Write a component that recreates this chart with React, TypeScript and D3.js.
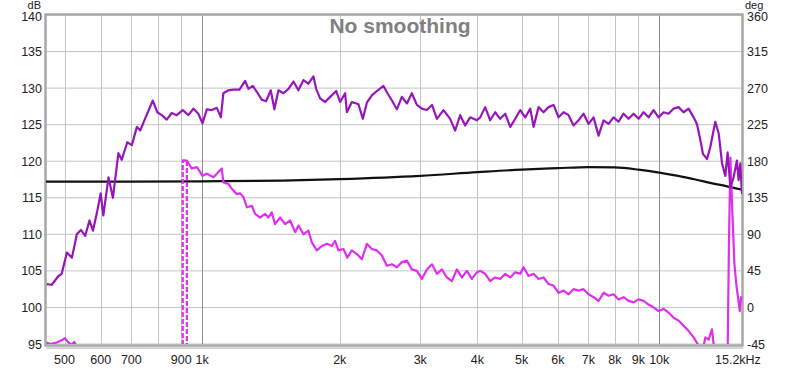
import React, { useEffect, useRef } from 'react';
import * as d3 from 'd3';

// ---- data ----
const gridFreqs = [500, 600, 700, 800, 900, 1000, 2000, 3000, 4000, 5000, 6000, 7000, 8000, 9000, 10000];
const majorFreqs = [1000, 10000];
const freqTicks = [500, 600, 700, 900, 1000, 2000, 3000, 4000, 5000, 6000, 7000, 8000, 9000, 10000];
const freqLabels = ['500', '600', '700', '900', '1k', '2k', '3k', '4k', '5k', '6k', '7k', '8k', '9k', '10k'];
const dbTicks = [95, 100, 105, 110, 115, 120, 125, 130, 135, 140];
const degTicks = [-45, 0, 45, 90, 135, 180, 225, 270, 315, 360];

// dark purple SPL trace
const splAFreq = [457, 469, 485, 493, 506, 519, 532, 543, 555, 567, 577, 588, 600, 608, 624, 638, 656, 667, 686, 702, 720, 732, 750, 780, 798, 816, 837, 858, 880, 907, 933, 957, 981, 1002, 1024, 1050, 1077, 1099, 1113, 1142, 1171, 1207, 1242, 1263, 1291, 1317, 1351, 1380, 1413, 1439, 1469, 1506, 1545, 1584, 1624, 1666, 1708, 1752, 1776, 1812, 1858, 1906, 1965, 2004, 2055, 2073, 2126, 2198, 2247, 2293, 2351, 2411, 2493, 2544, 2601, 2667, 2735, 2805, 2876, 2950, 3025, 3102, 3183, 3263, 3373, 3488, 3577, 3669, 3762, 3858, 3991, 4058, 4161, 4267, 4376, 4488, 4603, 4721, 4841, 4965, 5092, 5222, 5309, 5444, 5583, 5726, 5872, 6022, 6175, 6333, 6494, 6660, 6830, 7004, 7183, 7366, 7554, 7746, 7943, 8146, 8354, 8567, 8786, 9010, 9240, 9475, 9717, 9965, 10220, 10480, 10750, 11020, 11300, 11590, 11890, 12090, 12300, 12460, 12720, 12930, 13260, 13490, 13720, 13950, 14110, 14310, 14540, 14790, 14910, 15040, 15170];
const splADb = [103.2, 103.1, 104.3, 104.6, 107.5, 106.8, 110.0, 110.6, 109.8, 111.9, 110.5, 112.8, 115.6, 112.6, 117.8, 115.0, 121.1, 120.2, 122.6, 122.2, 124.7, 124.2, 125.8, 128.3, 126.7, 126.3, 125.7, 126.6, 126.3, 127.0, 126.3, 127.2, 126.5, 125.2, 127.1, 127.0, 127.3, 126.0, 129.3, 129.7, 129.8, 129.8, 131.0, 129.9, 130.3, 129.5, 128.4, 128.2, 129.7, 127.1, 129.7, 129.3, 129.9, 130.9, 129.7, 131.1, 130.6, 131.6, 129.9, 128.6, 128.1, 128.8, 129.6, 128.1, 129.3, 126.7, 128.1, 127.8, 125.8, 128.0, 129.0, 129.6, 130.3, 129.3, 128.3, 127.1, 128.8, 127.9, 129.3, 127.7, 127.2, 127.0, 127.7, 125.8, 127.0, 125.8, 124.2, 126.3, 124.9, 126.0, 125.6, 126.0, 127.4, 125.6, 126.7, 125.8, 126.5, 124.7, 125.8, 127.0, 126.0, 127.2, 124.7, 127.4, 126.7, 127.4, 127.7, 126.0, 126.7, 126.3, 124.9, 125.6, 126.5, 125.1, 126.0, 123.5, 125.6, 125.1, 126.0, 125.4, 126.5, 125.8, 126.5, 125.8, 126.7, 126.0, 127.0, 126.0, 126.7, 126.5, 127.2, 127.4, 126.7, 127.2, 126.0, 125.1, 122.9, 121.0, 120.3, 121.9, 125.4, 123.8, 119.7, 118.0, 121.2, 116.4, 117.8, 120.1, 117.4, 119.7, 115.5];

// magenta SPL trace
const splBFreq = [457, 465, 481, 493, 501, 510, 519, 525, 533, 545, 580, 870, 907, 926, 949, 974, 1002, 1024, 1059, 1104, 1113, 1142, 1162, 1191, 1211, 1231, 1253, 1285, 1306, 1339, 1374, 1397, 1420, 1444, 1481, 1519, 1558, 1598, 1625, 1666, 1708, 1738, 1782, 1828, 1875, 1922, 1954, 1987, 2038, 2078, 2126, 2181, 2236, 2293, 2351, 2411, 2473, 2536, 2601, 2667, 2735, 2805, 2876, 2950, 3025, 3102, 3183, 3263, 3346, 3431, 3519, 3608, 3700, 3794, 3891, 3991, 4058, 4161, 4267, 4376, 4488, 4603, 4721, 4841, 4965, 5049, 5176, 5309, 5444, 5583, 5726, 5872, 6022, 6175, 6333, 6494, 6660, 6830, 7004, 7183, 7366, 7554, 7746, 7943, 8146, 8354, 8567, 8786, 9010, 9240, 9475, 9717, 9965, 10220, 10480, 10750, 11020, 11300, 11590, 11890, 12190, 12400, 12610, 12820, 13040, 13260, 14100, 14200, 14310, 14450, 14600, 14750, 14910, 15000, 15100, 15170];
const splBDb = [95.2, 95.0, 95.2, 95.5, 95.8, 95.2, 94.9, 95.3, 94.5, 92, 90, 90, 120.1, 120.1, 119.0, 119.2, 118.0, 118.3, 117.8, 119.0, 117.1, 116.9, 116.2, 115.5, 115.6, 115.1, 113.7, 113.9, 112.8, 112.3, 112.8, 112.3, 113.0, 111.4, 112.3, 111.4, 111.9, 110.3, 111.2, 110.0, 110.5, 108.9, 107.8, 108.4, 108.7, 108.4, 109.1, 107.8, 108.0, 106.8, 107.8, 107.3, 106.6, 108.7, 108.0, 107.8, 107.1, 105.7, 105.9, 105.5, 106.2, 106.4, 105.2, 105.0, 103.9, 105.2, 105.9, 104.6, 105.2, 104.1, 103.6, 105.2, 104.1, 105.0, 103.9, 104.8, 105.0, 104.6, 103.6, 104.1, 103.9, 104.6, 104.1, 104.8, 104.6, 105.5, 104.3, 104.6, 103.9, 104.1, 103.2, 103.0, 102.0, 102.3, 101.8, 102.5, 102.3, 102.5, 101.8, 101.4, 100.9, 102.0, 101.6, 101.8, 101.1, 101.4, 100.9, 100.7, 101.1, 100.9, 100.4, 100.0, 99.5, 99.8, 99.3, 98.6, 98.2, 97.5, 96.8, 95.9, 94.8, 93.5, 95.9, 95.6, 97.0, 93, 92, 108, 120.5, 113, 106, 103, 100.8, 99.5, 101.4, 101];

// dashed part of the magenta trace
const dashFreq = [907, 907, 926, 926];
const dashDb = [92, 120.1, 120.1, 92];

// black trace
const blackFreq = [455, 700, 1000, 1500, 2000, 3000, 4000, 5000, 6000, 7000, 8000, 9000, 10000, 11000, 12000, 13000, 14000, 15200];
const blackDb = [117.2, 117.2, 117.25, 117.35, 117.55, 118.0, 118.5, 118.85, 119.05, 119.2, 119.15, 118.85, 118.45, 118.0, 117.5, 117.0, 116.6, 116.1];

const FONT = '"Liberation Sans", Arial, sans-serif';

const App = () => {
  const svgRef = useRef(null);

  useEffect(() => {
    const width = 800;
    const height = 368;
    const left = 46, right = 742, top = 15, bottom = 344;

    const svg = d3.select(svgRef.current)
      .attr('width', width)
      .attr('height', height);
    svg.selectAll('*').remove();

    svg.append('rect').attr('width', width).attr('height', height).attr('fill', 'white');

    const x = d3.scaleLog().domain([455.5, 15170]).range([left, right]);
    const y = d3.scaleLinear().domain([95, 140]).range([bottom, top]);
    const y2 = d3.scaleLinear().domain([-45, 360]).range([bottom, top]);

    svg.append('clipPath').attr('id', 'plotClip')
      .append('rect')
      .attr('x', left).attr('y', top)
      .attr('width', right - left).attr('height', bottom - top);

    // grid
    svg.append('g').selectAll('line')
      .data(dbTicks)
      .enter().append('line')
      .attr('x1', left).attr('x2', right)
      .attr('y1', d => y(d)).attr('y2', d => y(d))
      .attr('stroke', '#c4c4c4').attr('stroke-width', 1);

    svg.append('g').selectAll('line')
      .data(gridFreqs)
      .enter().append('line')
      .attr('x1', d => Math.round(x(d)) + 0.5).attr('x2', d => Math.round(x(d)) + 0.5)
      .attr('y1', top).attr('y2', bottom)
      .attr('stroke', d => majorFreqs.includes(d) ? '#8c8c8c' : '#c4c4c4')
      .attr('stroke-width', 1);

    // frame
    svg.append('rect')
      .attr('x', left - 0.5).attr('y', top - 0.5)
      .attr('width', right - left + 1).attr('height', bottom - top + 2)
      .attr('fill', 'none').attr('stroke', '#a8a8a8').attr('stroke-width', 2.5);
    svg.append('line')
      .attr('x1', left).attr('x2', right + 1)
      .attr('y1', bottom + 4).attr('y2', bottom + 4)
      .attr('stroke', '#d4d4d4').attr('stroke-width', 2);

    // title
    svg.append('text')
      .attr('x', 400).attr('y', 33)
      .attr('text-anchor', 'middle')
      .attr('font-family', FONT).attr('font-weight', 'bold').attr('font-size', 21)
      .attr('fill', '#808080')
      .text('No smoothing');

    const plotG = svg.append('g').attr('clip-path', 'url(#plotClip)');

    const line = d3.line<[number, number]>()
      .x(d => x(d[0]))
      .y(d => y(d[1]));

    const zip = (fs: number[], vs: number[]) => fs.map((f, i) => [f, vs[i]] as [number, number]);

    plotG.append('path')
      .datum(zip(blackFreq, blackDb))
      .attr('d', line.curve(d3.curveMonotoneX))
      .attr('fill', 'none').attr('stroke', '#111').attr('stroke-width', 2.2);

    line.curve(d3.curveLinear);

    plotG.append('path')
      .datum(zip(dashFreq, dashDb))
      .attr('d', line)
      .attr('fill', 'none').attr('stroke', '#e02ef0').attr('stroke-width', 2.2)
      .attr('stroke-dasharray', '5,2');

    plotG.append('path')
      .datum(zip(splBFreq, splBDb).filter(d => d[0] < 880 || d[0] >= 907))
      .attr('d', line.defined(d => !(d[0] === 870)))
      .attr('fill', 'none').attr('stroke', '#e02ef0').attr('stroke-width', 2.2)
      .attr('stroke-linejoin', 'round');

    line.defined(() => true);

    plotG.append('path')
      .datum(zip(splAFreq, splADb))
      .attr('d', line)
      .attr('fill', 'none').attr('stroke', '#9716b8').attr('stroke-width', 2.2)
      .attr('stroke-linejoin', 'round');

    // left axis labels
    svg.append('g').selectAll('text')
      .data(dbTicks)
      .enter().append('text')
      .attr('x', 42).attr('y', d => y(d) + (d === 140 ? 1.5 : 0))
      .attr('dy', '0.36em')
      .attr('text-anchor', 'end')
      .attr('font-family', FONT).attr('font-size', 12.5).attr('fill', '#222')
      .text(d => d);

    // right axis labels
    svg.append('g').selectAll('text')
      .data(degTicks)
      .enter().append('text')
      .attr('x', 747).attr('y', d => y2(d) + (d === 360 ? 1.5 : 0))
      .attr('dy', '0.36em')
      .attr('text-anchor', 'start')
      .attr('font-family', FONT).attr('font-size', 12.5).attr('fill', '#222')
      .text(d => d);

    // x labels
    svg.append('g').selectAll('text')
      .data(freqTicks)
      .enter().append('text')
      .attr('x', d => x(d)).attr('y', 364)
      .attr('text-anchor', 'middle')
      .attr('font-family', FONT).attr('font-size', 12.5).attr('fill', '#222')
      .text((d, i) => freqLabels[i]);

    svg.append('text')
      .attr('x', 715).attr('y', 364)
      .attr('font-family', FONT).attr('font-size', 12.5).attr('fill', '#222')
      .text('15.2kHz');

    // unit labels
    svg.append('text')
      .attr('x', 41).attr('y', 9)
      .attr('text-anchor', 'end')
      .attr('font-family', FONT).attr('font-size', 11).attr('fill', '#222')
      .text('dB');

    svg.append('text')
      .attr('x', 745).attr('y', 9)
      .attr('font-family', FONT).attr('font-size', 11).attr('fill', '#222')
      .text('deg');
  }, []);

  return <svg ref={svgRef} style={{ position: 'absolute', left: 0, top: 0, display: 'block' }}></svg>;
};

export default App;
